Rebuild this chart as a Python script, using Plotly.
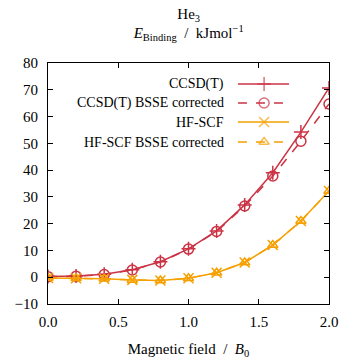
import plotly.graph_objects as go

field = [0.0, 0.2, 0.4, 0.6, 0.8, 1.0, 1.2, 1.4, 1.6, 1.8, 2.0]
ccsdt = [0.3, 0.5, 1.1, 2.8, 5.8, 10.6, 17.3, 27.0, 39.0, 54.2, 70.7]
ccsdt_bsse = [0.2, 0.4, 1.0, 2.7, 5.7, 10.5, 17.1, 26.6, 37.8, 50.8, 64.7]
hfscf = [-0.3, -0.4, -0.6, -1.0, -1.2, -0.4, 1.7, 5.5, 12.0, 21.0, 32.2]
hfscf_bsse = [-0.3, -0.4, -0.6, -1.0, -1.2, -0.4, 1.7, 5.5, 12.0, 21.0, 32.2]

names = ["CCSD(T)", "CCSD(T) BSSE corrected", "HF-SCF", "HF-SCF BSSE corrected"]
x_ticks = [0.0, 0.5, 1.0, 1.5, 2.0]
x_tick_text = ["0.0", "0.5", "1.0", "1.5", "2.0"]
y_ticks = [-10, 0, 10, 20, 30, 40, 50, 60, 70, 80]

RED = "#cc3344"
ORANGE = "#f5a000"
FONT = "Liberation Serif"

styles = [
    dict(color=RED, dash="solid", symbol="cross-thin-open", size=10),
    dict(color=RED, dash="dash", symbol="circle-open", size=10),
    dict(color=ORANGE, dash="solid", symbol="x-thin-open", size=10),
    dict(color=ORANGE, dash="dash", symbol="triangle-up-open", size=9),
]
series = [ccsdt, ccsdt_bsse, hfscf, hfscf_bsse]

fig = go.Figure()
for name, ys, st in zip(names, series, styles):
    fig.add_trace(go.Scatter(
        x=field, y=ys, name=name, mode="lines+markers",
        line=dict(color=st["color"], width=1.5, dash=st["dash"]),
        marker=dict(symbol=st["symbol"], size=st["size"], color=st["color"],
                    line=dict(width=1.5, color=st["color"])),
        showlegend=False,
    ))

# custom legend (text left of sample, like gnuplot)
leg_rows = [0.913, 0.834, 0.755, 0.672]
lx0, lxm, lx1, ltext = 0.676, 0.769, 0.858, 0.633
for name, st, ly in zip(names, styles, leg_rows):
    fig.add_trace(go.Scatter(
        x=[lx0, lxm, lx1], y=[ly, ly, ly], mode="lines+markers",
        xaxis="x2", yaxis="y2", showlegend=False, hoverinfo="skip",
        line=dict(color=st["color"], width=1.5, dash=st["dash"]),
        marker=dict(symbol=st["symbol"], size=[0, st["size"], 0], color=st["color"],
                    line=dict(width=1.5, color=st["color"])),
    ))
    fig.add_annotation(x=ltext, y=ly, xref="paper", yref="paper", text=name,
                       showarrow=False, xanchor="right", yanchor="middle",
                       font=dict(family=FONT, size=14, color="black"))

axis_common = dict(showgrid=False, zeroline=False, showline=True, linecolor="black",
                   linewidth=1, mirror="ticks", ticks="inside", ticklen=5,
                   tickcolor="black", automargin=False,
                   tickfont=dict(family=FONT, size=15, color="black"))

fig.update_layout(
    width=340, height=359,
    margin=dict(l=48, r=11, t=63, b=55),
    plot_bgcolor="white", paper_bgcolor="white",
    title=dict(text="He<sub>3</sub><br><i>E</i><sub>Binding</sub>  /  kJmol<sup>−1</sup>",
               x=0.555, xanchor="center", y=0.948, yanchor="top",
               font=dict(family=FONT, size=15, color="black")),
    xaxis=dict(range=[0, 2], tickvals=x_ticks, ticktext=x_tick_text,
               ticklabelstandoff=4,
               title=dict(text="Magnetic field  /  <i>B</i><sub>0</sub>",
                          font=dict(family=FONT, size=15, color="black"), standoff=18),
               **axis_common),
    yaxis=dict(range=[-10, 80], tickvals=y_ticks, ticklabelstandoff=6, **axis_common),
    xaxis2=dict(range=[0, 1], overlaying="x", visible=False),
    yaxis2=dict(range=[0, 1], overlaying="y", visible=False),
)

fig.write_html("out.html")
